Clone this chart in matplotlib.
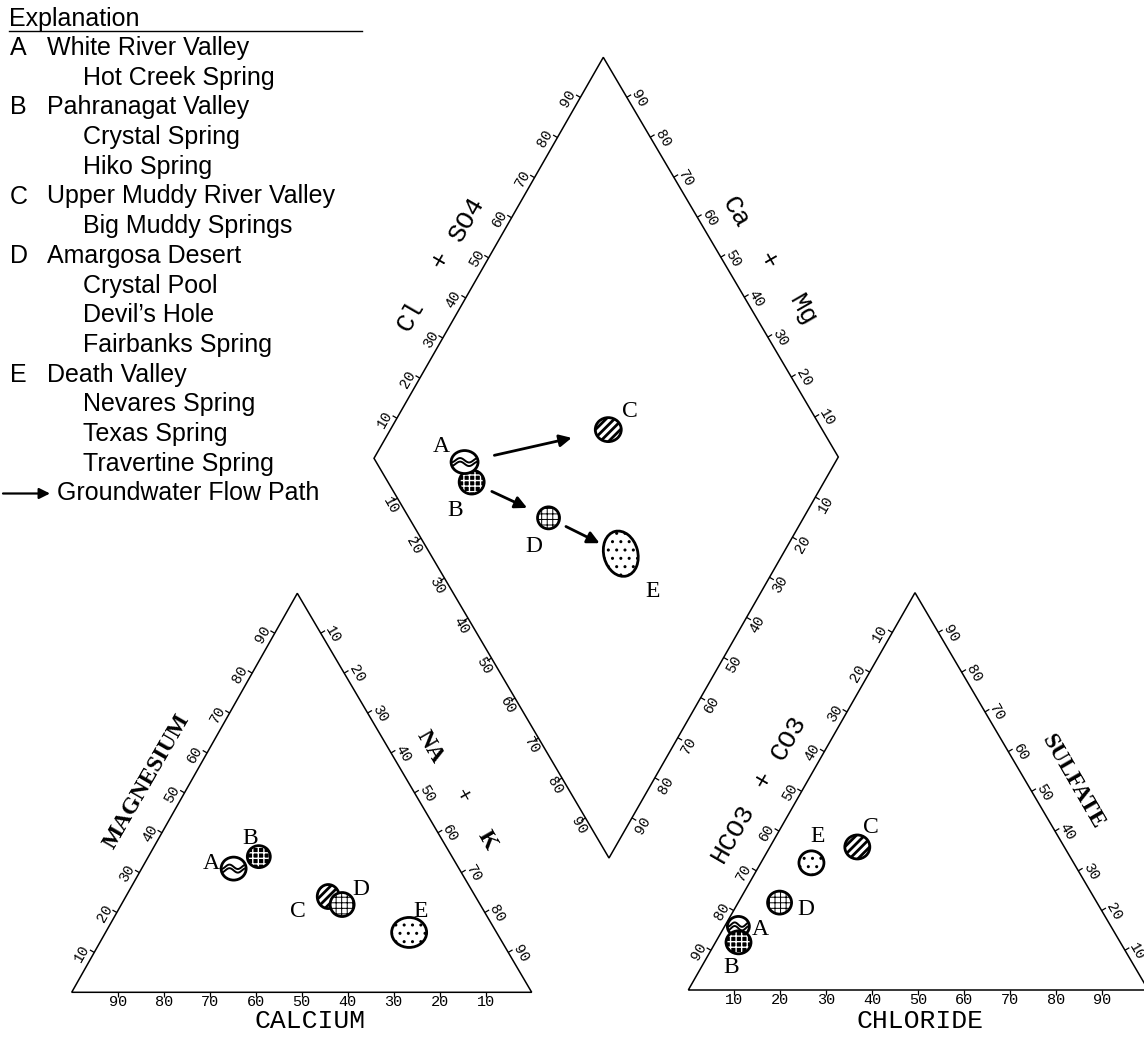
import numpy as np
import matplotlib as mpl
import matplotlib.pyplot as plt
from matplotlib.patches import Ellipse, Polygon
from matplotlib.collections import LineCollection

W, H = 1144, 1051

# ---- values (percent of meq/L) ----
groups = ['A', 'B', 'C', 'D', 'E']
calcium = [49, 42, 32, 30, 19]
magnesium = [31, 34, 24, 22, 15]
sodium_potassium = [20, 24, 44, 48, 66]
bicarbonate = [81, 83, 45, 69, 57]
sulfate = [16, 12, 36, 22, 32]
chloride = [3, 5, 19, 9, 11]
# central field, as plotted
diamond_ca_mg = [80, 76, 53, 55, 35]
diamond_cl_so4 = [19, 18, 54, 30, 41]

flow_paths = [('A', 'C'), ('B', 'D'), ('D', 'E')]
scale_ticks = [10, 20, 30, 40, 50, 60, 70, 80, 90]

legend_regions = ['White River Valley', 'Pahranagat Valley', 'Upper Muddy River Valley',
                  'Amargosa Desert', 'Death Valley']
legend_springs = [['Hot Creek Spring'],
                  ['Crystal Spring', 'Hiko Spring'],
                  ['Big Muddy Springs'],
                  ['Crystal Pool', 'Devil\u2019s Hole', 'Fairbanks Spring'],
                  ['Nevares Spring', 'Texas Spring', 'Travertine Spring']]

# ---- layout (pixel frame, y down) ----
CAT_L = np.array([71.7, 992.3]); CAT_R = np.array([531.7, 992.3]); CAT_T = np.array([297.3, 593.3])
AN_L = np.array([688.3, 990.0]); AN_R = np.array([1148.3, 990.0]); AN_T = np.array([915.0, 592.7])
DI_B = np.array([609.0, 858.0]); DI_L = np.array([374.0, 458.3]); DI_R = np.array([838.3, 457.0])
DI_T = DI_L + DI_R - DI_B

MONO = 'Liberation Mono'
SERIF = 'Liberation Serif'
SANS = 'Liberation Sans'

# marker styles: (hatch, hatch colour, hatch linewidth)
STYLE = {'A': 'wave', 'B': 'grid_dark', 'C': 'stripes', 'D': 'grid', 'E': 'dots'}
HATCH = {'grid_dark': ('+++', 'white', 1.0), 'stripes': ('////', 'black', 2.0),
         'grid': ('+++', 'black', 0.7), 'dots': ('..', 'black', 1.0)}

cation_size = {'A': (25, 23), 'B': (23, 22), 'C': (22, 24), 'D': (24, 24), 'E': (35, 30)}
diamond_size = {'A': (27, 23), 'B': (25, 24), 'C': (26, 24), 'D': (22, 22), 'E': (34, 46)}
anion_size = {'A': (22, 20), 'B': (25, 23), 'C': (25, 24), 'D': (24, 23), 'E': (25, 24)}

cation_lab = {'A': (-22, -5), 'B': (-9, -18), 'C': (-30, 15), 'D': (19, -15), 'E': (11, -21)}
diamond_lab = {'A': (-23, -16), 'B': (-17, 28), 'C': (22, -18), 'D': (-15, 29), 'E': (32, 38)}
anion_lab = {'A': (22, 3), 'B': (-7, 25), 'C': (14, -19), 'D': (26, 7), 'E': (6, -26)}


def tri_point(L, R, T, f_right, f_top):
    return L + f_right * (R - L) + f_top * (T - L)


cation_xy = {g: tri_point(CAT_L, CAT_R, CAT_T, na / 100, mg / 100)
             for g, na, mg in zip(groups, sodium_potassium, magnesium)}
anion_xy = {g: tri_point(AN_L, AN_R, AN_T, cl / 100, so / 100)
            for g, cl, so in zip(groups, chloride, sulfate)}
diamond_xy = {g: DI_B + cm / 100 * (DI_L - DI_B) + cs / 100 * (DI_R - DI_B)
              for g, cm, cs in zip(groups, diamond_ca_mg, diamond_cl_so4)}

fig = plt.figure(figsize=(W / 100, H / 100), dpi=100)
ax = fig.add_axes([0, 0, 1, 1])
ax.set_xlim(0, W)
ax.set_ylim(H, 0)
ax.axis('off')

tick_segs = []


def edge_scale(p0, p1, centre, rot, reverse=False, n_off=10, shift=7, size=10.5):
    vec = p1 - p0
    d = vec / np.linalg.norm(vec)
    n = np.array([-d[1], d[0]])
    mid = (p0 + p1) / 2
    if np.dot(n, mid - centre) < 0:
        n = -n
    down = d if d[1] > 0 else -d
    if abs(d[1]) < 1e-6:
        down = np.zeros(2)
    for t in scale_ticks:
        p = p0 + t / 100 * vec
        tick_segs.append([p, p + n * 5])
        q = p + n * n_off + down * shift
        ax.text(q[0], q[1], str(100 - t if reverse else t), rotation=rot,
                ha='center', va='center', family=MONO, fontsize=size)


for poly in ([CAT_L, CAT_R, CAT_T], [AN_L, AN_R, AN_T], [DI_B, DI_R, DI_T, DI_L]):
    ax.add_patch(Polygon(poly, closed=True, fill=False, lw=1.1, ec='black', zorder=2))

cat_c = (CAT_L + CAT_R + CAT_T) / 3
an_c = (AN_L + AN_R + AN_T) / 3
di_c = (DI_L + DI_R) / 2

edge_scale(CAT_L, CAT_R, cat_c, 0, reverse=True, n_off=10, shift=0, size=11)
edge_scale(CAT_L, CAT_T, cat_c, 60)
edge_scale(CAT_T, CAT_R, cat_c, -60)
edge_scale(AN_L, AN_R, an_c, 0, n_off=10, shift=0, size=11)
edge_scale(AN_L, AN_T, an_c, 60, reverse=True)
edge_scale(AN_R, AN_T, an_c, -60)
edge_scale(DI_L, DI_T, di_c, 60)
edge_scale(DI_R, DI_T, di_c, -60)
edge_scale(DI_L, DI_B, di_c, -60, n_off=10, shift=3)
edge_scale(DI_R, DI_B, di_c, 60, n_off=13, shift=1)

ax.add_collection(LineCollection(tick_segs, colors='black', linewidths=0.9, zorder=2))


def draw_marker(c, size, style, z, angle=0):
    w, h = size
    face = 'black' if style == 'grid_dark' else 'white'
    base = Ellipse(c, w, h, angle=angle, facecolor=face, edgecolor='none', zorder=z)
    ax.add_patch(base)
    if style in HATCH:
        hatch, hcol, hlw = HATCH[style]
        with mpl.rc_context({'hatch.linewidth': hlw}):
            hp = Ellipse(c, w, h, angle=angle, facecolor='none', edgecolor=hcol,
                         hatch=hatch, lw=0, zorder=z + 0.1)
            if hasattr(hp, 'set_hatch_linewidth'):
                hp.set_hatch_linewidth(hlw)
        ax.add_patch(hp)
    if style == 'wave':
        t = np.linspace(-0.5, 0.5, 60)
        for dy in (-1.8, 1.8):
            ln, = ax.plot(c[0] + t * w, c[1] + dy + 2.2 * np.sin(3 * np.pi * t),
                          color='black', lw=1.4, zorder=z + 0.1)
            ln.set_clip_path(base)
    ax.add_patch(Ellipse(c, w, h, angle=angle, facecolor='none', edgecolor='black',
                         lw=2.0, zorder=z + 0.2))


def plot_field(xy, sizes, labs, order, tilt=None):
    tilt = tilt or {}
    for i, g in enumerate(order):
        draw_marker(xy[g], sizes[g], STYLE[g], 5 + i, angle=tilt.get(g, 0))
    for g in groups:
        dx, dy = labs[g]
        ax.text(xy[g][0] + dx, xy[g][1] + dy, g, family=SERIF, fontsize=17,
                ha='center', va='center', zorder=20)


plot_field(cation_xy, cation_size, cation_lab, ['A', 'B', 'C', 'D', 'E'])
plot_field(diamond_xy, diamond_size, diamond_lab, ['B', 'A', 'C', 'D', 'E'], tilt={'E': -15})
plot_field(anion_xy, anion_size, anion_lab, ['A', 'B', 'C', 'D', 'E'])

shrink = {('A', 'C'): (22, 27), ('B', 'D'): (16, 17), ('D', 'E'): (14, 17)}
for a, b in flow_paths:
    sa, sb = shrink[(a, b)]
    ax.annotate('', xy=diamond_xy[b], xytext=diamond_xy[a],
                arrowprops=dict(arrowstyle='-|>', lw=2.0, color='black',
                                mutation_scale=18, shrinkA=sa, shrinkB=sb), zorder=15)

# ---- axis titles ----
ax.text(310, 1028, 'CALCIUM', family=MONO, fontsize=19, ha='center', va='baseline')
ax.text(920, 1028, 'CHLORIDE', family=MONO, fontsize=19, ha='center', va='baseline')
ax.text(147, 781, 'MAGNESIUM', family=SERIF, weight='bold', fontsize=17,
        rotation=60, ha='center', va='center')
ax.text(1073, 782, 'SULFATE', family=SERIF, weight='bold', fontsize=17,
        rotation=-60, ha='center', va='center')

title_parts = [
    (['NA', '+', 'K'], [(430, 747), (462, 796), (487, 840)], -60, SERIF, 'bold', 17),
    (['HCO3', '+', 'CO3'], [(733, 833), (763, 780), (788, 738)], 60, MONO, 'normal', 19),
    (['Cl', '+', 'SO4'], [(410, 316), (440, 260), (467, 219)], 60, MONO, 'normal', 19),
    (['Ca', '+', 'Mg'], [(735, 212), (768, 260), (803, 310)], -60, MONO, 'normal', 19),
]
for words, spots, rot, fam, wt, fs in title_parts:
    for word, (x, y) in zip(words, spots):
        ax.text(x, y, word, family=fam, weight=wt, fontsize=fs, rotation=rot,
                ha='center', va='center')

# ---- explanation ----
ax.text(9, 19, 'Explanation', family=SANS, fontsize=18, ha='left', va='center')
ax.plot([9, 362], [31, 31], color='black', lw=1.0)
row = 0
y0, step = 48, 29.7
for g, region, springs in zip(groups, legend_regions, legend_springs):
    y = y0 + row * step
    ax.text(10, y, g, family=SANS, fontsize=18, ha='left', va='center')
    ax.text(47, y, region, family=SANS, fontsize=18, ha='left', va='center')
    row += 1
    for s in springs:
        ax.text(83, y0 + row * step, s, family=SANS, fontsize=18, ha='left', va='center')
        row += 1
y = y0 + row * step
ax.annotate('', xy=(50, y), xytext=(3, y),
            arrowprops=dict(arrowstyle='-|>', lw=1.6, color='black', mutation_scale=16,
                            shrinkA=0, shrinkB=0))
ax.text(57, y, 'Groundwater Flow Path', family=SANS, fontsize=18, ha='left', va='center')

fig.savefig('out.png', dpi=100, facecolor='white')
